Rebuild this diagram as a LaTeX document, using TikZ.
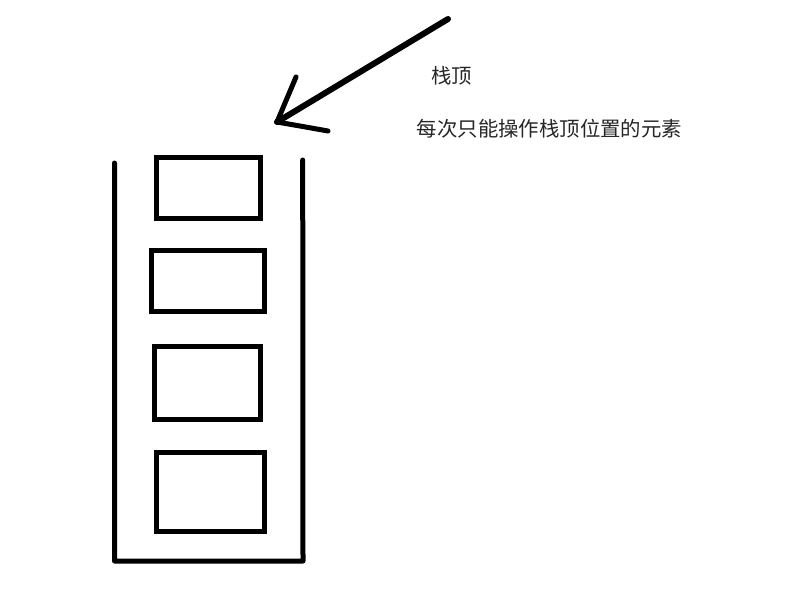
\documentclass[tikz,border=0pt]{standalone}
\usepackage{fontspec}
\newfontfamily\cjk{Noto Sans CJK SC}
\usetikzlibrary{positioning}

\begin{document}
\begin{tikzpicture}[x=1pt,y=-1pt]
  \tikzset{
    slot/.style={draw, line width=5pt, inner sep=0pt},
    wall/.style={line width=5pt, line cap=round, line join=round},
    pen/.style={line width=6pt, line cap=round},
    label/.style={draw=none, font=\cjk\fontsize{20.4}{24}\selectfont, text=black!85},
  }
  \useasboundingbox (0,0) rectangle (805,597);

  % the stack and its elements
  \draw[wall] (114.5,163) -- (114.5,561) -- (303,561) -- (302.7,160);
  \node[slot, minimum width=103.5pt, minimum height=61pt] (s1) at (208.25,188) {};
  \node[slot, minimum width=113.5pt, minimum height=61pt] (s2) at (207.75,280.5) {};
  \node[slot, minimum width=106.5pt, minimum height=73.5pt] (s3) at (207.25,382.75) {};
  \node[slot, minimum width=108.5pt, minimum height=78.5pt] (s4) at (210.25,491.75) {};

  % pointer to the top
  \coordinate (tail) at (448,19);
  \coordinate (tip) at (277,122);
  \coordinate (barbup) at (296,77);
  \coordinate (barbdown) at (328,131);
  \draw[pen] (tail) -- (tip);
  \draw[wall] (barbup) -- (tip);
  \draw[wall] (tip) .. controls (300,126) .. (barbdown);

  \node[label] (top) at (451.5,76) {栈顶};
  \node[label] (note) at (549.5,129) {每次只能操作栈顶位置的元素};

\end{tikzpicture}
\end{document}
